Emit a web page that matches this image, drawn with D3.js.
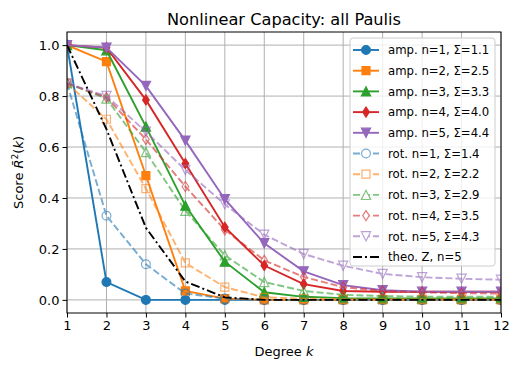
<!DOCTYPE html>
<html>
<head>
<meta charset="utf-8">
<script src="https://cdn.jsdelivr.net/npm/d3@7"></script>
<style>
  body { margin: 0; background: #fff; }
  text { font-family: "DejaVu Sans", sans-serif; fill: #000; }
</style>
</head>
<body>
<svg id="chart" width="520" height="370"></svg>
<script>
// degrees on the x axis
var degrees = [1, 2, 3, 4, 5, 6, 7, 8, 9, 10, 11, 12];

// amplitude encoding
var amp1 = [1.0, 0.07, 0.0, 0.0, 0.0, 0.0, 0.0, 0.0, 0.0, 0.0, 0.0, 0.0];
var amp2 = [1.0, 0.935, 0.488, 0.035, 0.005, 0.0, 0.0, 0.0, 0.0, 0.0, 0.0, 0.0];
var amp3 = [1.0, 0.98, 0.68, 0.37, 0.15, 0.03, 0.012, 0.007, 0.006, 0.006, 0.006, 0.006];
var amp4 = [1.0, 0.99, 0.785, 0.535, 0.285, 0.135, 0.062, 0.035, 0.032, 0.032, 0.032, 0.032];
var amp5 = [1.0, 0.99, 0.84, 0.625, 0.395, 0.222, 0.112, 0.058, 0.038, 0.032, 0.032, 0.032];

// rotation encoding
var rot1 = [0.85, 0.33, 0.14, 0.025, 0.005, 0.0, 0.0, 0.0, 0.0, 0.0, 0.0, 0.0];
var rot2 = [0.85, 0.709, 0.437, 0.145, 0.05, 0.01, 0.005, 0.003, 0.003, 0.003, 0.003, 0.003];
var rot3 = [0.85, 0.79, 0.58, 0.35, 0.175, 0.07, 0.035, 0.02, 0.015, 0.013, 0.012, 0.012];
var rot4 = [0.85, 0.795, 0.63, 0.445, 0.275, 0.155, 0.09, 0.05, 0.035, 0.03, 0.026, 0.025];
var rot5 = [0.85, 0.8, 0.66, 0.51, 0.375, 0.256, 0.18, 0.134, 0.102, 0.089, 0.083, 0.079];

// theory curve
var theoZ = [1.0, 0.67, 0.283, 0.072, 0.01, 0.0, 0.0, 0.0, 0.0, 0.0, 0.0, 0.0];

var yTicks = [0.0, 0.2, 0.4, 0.6, 0.8, 1.0];

var series = [
  { name: "amp. n=1, Σ=1.1", values: amp1, color: "#1f77b4", marker: "circle", filled: true },
  { name: "amp. n=2, Σ=2.5", values: amp2, color: "#ff7f0e", marker: "square", filled: true },
  { name: "amp. n=3, Σ=3.3", values: amp3, color: "#2ca02c", marker: "triUp", filled: true },
  { name: "amp. n=4, Σ=4.0", values: amp4, color: "#d62728", marker: "diamond", filled: true },
  { name: "amp. n=5, Σ=4.4", values: amp5, color: "#9467bd", marker: "triDown", filled: true },
  { name: "rot. n=1, Σ=1.4", values: rot1, color: "#1f77b4", marker: "circle", filled: false },
  { name: "rot. n=2, Σ=2.2", values: rot2, color: "#ff7f0e", marker: "square", filled: false },
  { name: "rot. n=3, Σ=2.9", values: rot3, color: "#2ca02c", marker: "triUp", filled: false },
  { name: "rot. n=4, Σ=3.5", values: rot4, color: "#d62728", marker: "diamond", filled: false },
  { name: "rot. n=5, Σ=4.3", values: rot5, color: "#9467bd", marker: "triDown", filled: false },
  { name: "theo. Z, n=5", values: theoZ, color: "#000", marker: null, filled: true, theo: true }
];

drawChart();

function drawChart() {
  var svg = d3.select("#chart");
  var mLeft = 67, mRight = 501, mTop = 32, mBottom = 313;

  var x = d3.scaleLinear().domain([1, 12]).range([mLeft, mRight]);
  var y = d3.scaleLinear().domain([-0.0515, 1.0515]).range([mBottom, mTop]);

  svg.append("defs").append("clipPath").attr("id", "clip")
    .append("rect").attr("x", mLeft).attr("y", mTop)
    .attr("width", mRight - mLeft).attr("height", mBottom - mTop);

  // grid
  var grid = svg.append("g");
  grid.selectAll(".gx").data(degrees).enter().append("line")
    .attr("x1", (d) => x(d)).attr("x2", (d) => x(d))
    .attr("y1", mTop).attr("y2", mBottom)
    .attr("stroke", "#b0b0b0").attr("stroke-width", 1);
  grid.selectAll(".gy").data(yTicks).enter().append("line")
    .attr("x1", mLeft).attr("x2", mRight)
    .attr("y1", (d) => y(d)).attr("y2", (d) => y(d))
    .attr("stroke", "#b0b0b0").attr("stroke-width", 1);

  var plot = svg.append("g").attr("clip-path", "url(#clip)");
  var line = d3.line().x((d, i) => x(degrees[i])).y((d) => y(d));

  series.forEach(function (s) {
    var g = plot.append("g").attr("opacity", s.filled ? 1 : 0.6);
    g.append("path")
      .attr("d", line(s.values))
      .attr("fill", "none")
      .attr("stroke", s.color)
      .attr("stroke-width", 1.9)
      .attr("stroke-dasharray", dashFor(s));
    if (s.marker) {
      g.selectAll("path.m").data(s.values).enter().append("path")
        .attr("class", "m")
        .attr("d", markerPath(s.marker))
        .attr("transform", (d, i) => `translate(${x(degrees[i])},${y(d)})`)
        .attr("fill", s.filled ? s.color : "none")
        .attr("stroke", s.color)
        .attr("stroke-width", 1.2);
    }
  });

  // axes
  var xAxis = d3.axisBottom(x).tickValues(degrees).tickSize(4.5).tickPadding(3).tickFormat(d3.format("d"));
  var yAxis = d3.axisLeft(y).tickValues(yTicks).tickSize(4.5).tickPadding(3).tickFormat(d3.format(".1f"));

  var gx = svg.append("g").attr("transform", `translate(0, ${mBottom})`).call(xAxis);
  var gy = svg.append("g").attr("transform", `translate(${mLeft}, 0)`).call(yAxis);
  [gx, gy].forEach(function (g) {
    g.select(".domain").remove();
    g.selectAll("text").attr("font-size", 13).attr("fill", "#000");
    g.selectAll("line").attr("stroke", "#000").attr("stroke-width", 1);
  });

  svg.append("rect")
    .attr("x", mLeft).attr("y", mTop)
    .attr("width", mRight - mLeft).attr("height", mBottom - mTop)
    .attr("fill", "none").attr("stroke", "#000").attr("stroke-width", 1);

  // title and labels
  svg.append("text").attr("x", (mLeft + mRight) / 2).attr("y", 25)
    .attr("text-anchor", "middle").attr("font-size", 16.2)
    .text("Nonlinear Capacity: all Paulis");

  var xl = svg.append("text").attr("x", (mLeft + mRight) / 2).attr("y", 356)
    .attr("text-anchor", "middle").attr("font-size", 13);
  xl.append("tspan").text("Degree ");
  xl.append("tspan").attr("font-style", "italic").text("k");

  var yl = svg.append("text")
    .attr("transform", `translate(23, ${(mTop + mBottom) / 2}) rotate(-90)`)
    .attr("text-anchor", "middle").attr("font-size", 13);
  yl.append("tspan").text("Score ");
  yl.append("tspan").attr("font-style", "italic").text("R\u0304");
  yl.append("tspan").attr("font-size", 9).attr("dy", -5).text("2");
  yl.append("tspan").attr("dy", 5).text("(");
  yl.append("tspan").attr("font-style", "italic").text("k");
  yl.append("tspan").text(")");

  // legend
  var lg = svg.append("g").attr("transform", "translate(350, 38)");
  lg.append("rect").attr("width", 145).attr("height", 228).attr("rx", 3)
    .attr("fill", "#fff").attr("fill-opacity", 0.8)
    .attr("stroke", "#ccc").attr("stroke-width", 1);

  series.forEach(function (s, i) {
    var ry = 12 + i * 20.7;
    var row = lg.append("g").attr("transform", `translate(0, ${ry})`);
    var item = row.append("g").attr("opacity", s.filled ? 1 : 0.6);
    item.append("line").attr("x1", 3).attr("x2", 29).attr("y1", 0).attr("y2", 0)
      .attr("stroke", s.color).attr("stroke-width", 1.9)
      .attr("stroke-dasharray", dashFor(s));
    if (s.marker) {
      item.append("path").attr("d", markerPath(s.marker))
        .attr("transform", "translate(16, 0)")
        .attr("fill", s.filled ? s.color : "#fff")
        .attr("stroke", s.color).attr("stroke-width", 1.2);
    }
    row.append("text").attr("x", 38).attr("y", 4.2).attr("font-size", 11.7).text(s.name);
  });
}

function dashFor(s) {
  if (s.theo) return "9,3,2,3";
  return s.filled ? null : "7,3";
}

// marker shapes, drawn around 0,0
function markerPath(type) {
  var r = 4.4;
  if (type == "circle") return d3.symbol().type(d3.symbolCircle).size(Math.PI * r * r)();
  if (type == "square") return "M-4,-4H4V4H-4Z";
  if (type == "triUp") return "M0,-4.6L4.6,4.6L-4.6,4.6Z";
  if (type == "triDown") return "M0,4.6L4.6,-4.6L-4.6,-4.6Z";
  if (type == "diamond") return "M0,-5L3.3,0L0,5L-3.3,0Z";
}
</script>
</body>
</html>
